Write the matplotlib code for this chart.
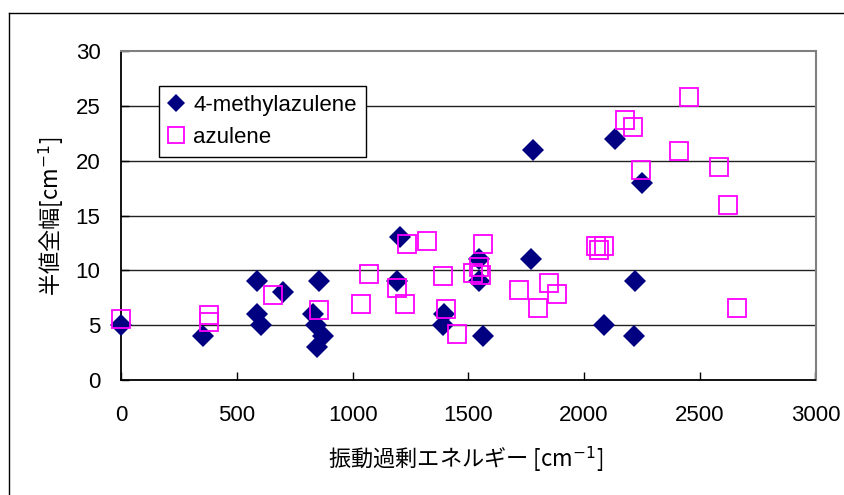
import numpy as np
import matplotlib
matplotlib.use('Agg')
import matplotlib.pyplot as plt
from matplotlib.lines import Line2D

plt.rcParams['font.family'] = ['Liberation Sans', 'Noto Sans CJK JP', 'DejaVu Sans']

# 4-methylazulene (filled navy diamonds)
methyl_x = [0, 355, 585, 585, 605, 700, 855, 830, 840, 870, 845, 1205, 1190,
            1395, 1390, 1545, 1545, 1565, 1770, 1780, 2135, 2250, 2085, 2220, 2215]
methyl_y = [5, 4, 9, 6, 5, 8, 9, 6, 5, 4, 3, 13, 9,
            6, 5, 11, 9, 4, 11, 21, 22, 18, 5, 9, 4]

# azulene (open magenta squares)
azu_x = [0, 380, 380, 655, 855, 1035, 1070, 1190, 1225, 1235, 1320, 1390, 1405,
         1450, 1520, 1545, 1555, 1565, 1720, 1800, 1850, 1885, 2050, 2065, 2085,
         2175, 2210, 2245, 2410, 2455, 2585, 2620, 2660]
azu_y = [5.6, 5.9, 5.3, 7.8, 6.4, 6.9, 9.7, 8.4, 6.9, 12.4, 12.7, 9.5, 6.5,
         4.2, 9.8, 10.3, 9.6, 12.4, 8.2, 6.6, 8.9, 7.9, 12.2, 11.9, 12.2,
         23.7, 23.1, 19.1, 20.9, 25.8, 19.4, 16.0, 6.6]

xticks = [0, 500, 1000, 1500, 2000, 2500, 3000]
yticks = [0, 5, 10, 15, 20, 25, 30]

W, H = 844, 495
fig = plt.figure(figsize=(W / 100, H / 100), dpi=100)
ax = fig.add_axes([121.3 / W, 1 - 380.3 / H, (815.5 - 121.3) / W, (380.3 - 50.7) / H])

# outer chart-area border (only left and top are inside the picture)
fig.add_artist(Line2D([9 / W, 9 / W], [0, 1 - 13 / H], transform=fig.transFigure,
                      color='black', lw=1))
fig.add_artist(Line2D([9 / W, 1], [1 - 13 / H, 1 - 13 / H], transform=fig.transFigure,
                      color='black', lw=1))

for y in yticks[1:-1]:
    ax.axhline(y, color='#222222', lw=1.0, zorder=1)

ax.plot(methyl_x, methyl_y, 'D', color='#000080', ms=10.8, mew=0,
        label='4-methylazulene', zorder=3, clip_on=False)
ax.plot(azu_x, azu_y, 's', mfc='none', mec='#FF00FF', ms=13.6, mew=1.3,
        label='azulene', zorder=4, clip_on=False)

ax.set_xlim(0, 3000)
ax.set_ylim(0, 30)
ax.set_xticks(xticks)
ax.set_yticks(yticks)
ax.tick_params(axis='x', direction='in', length=6, width=1, pad=18, labelsize=16)
ax.tick_params(axis='y', direction='in', length=6, width=1, pad=15, labelsize=16)

for side in ['left', 'bottom']:
    ax.spines[side].set_color('black')
    ax.spines[side].set_linewidth(1.3)
for side in ['top', 'right']:
    ax.spines[side].set_color('#808080')
    ax.spines[side].set_linewidth(1.5)

leg = ax.legend(loc='upper left', bbox_to_anchor=(159 / W, 1 - 86 / H),
                bbox_transform=fig.transFigure, borderaxespad=0, fancybox=False,
                framealpha=1, edgecolor='black', fontsize=16, handlelength=0.7,
                handletextpad=0.45, labelspacing=0.5, borderpad=0.4, markerscale=0.85)
leg.get_frame().set_linewidth(1.0)

fig.text(52 / W, 1 - 216 / H, '半値全幅[cm$^{-1}$]', rotation=90, ha='center', va='center',
         fontsize=16, family='Noto Sans CJK JP')
fig.text(466 / W, 1 - 460 / H, '振動過剰エネルギー [cm$^{-1}$]', ha='center', va='center',
         fontsize=16, family='Noto Sans CJK JP')

fig.savefig('out.png', dpi=100)
